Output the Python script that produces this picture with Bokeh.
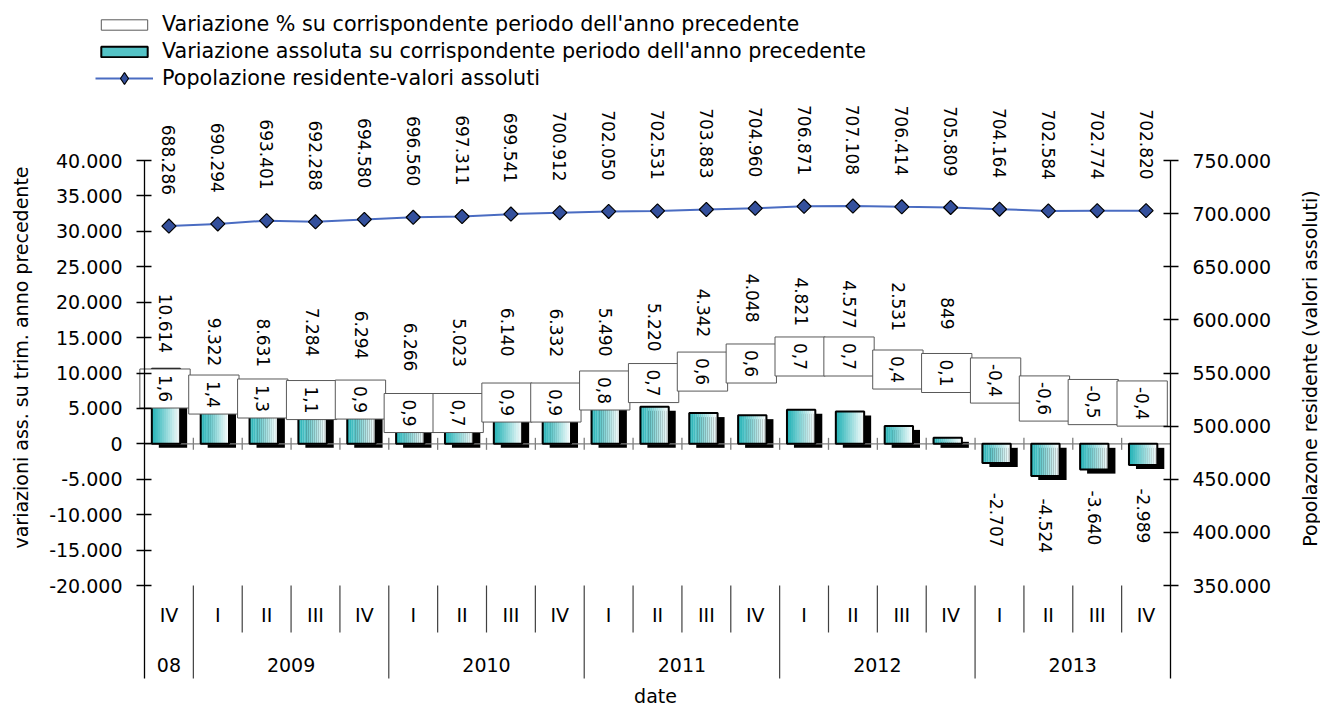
import math
from bokeh.plotting import figure
from bokeh.models import (Range1d, LinearAxis, FixedTicker, CustomJSTickFormatter,
                          Legend, LegendItem, Label)
from bokeh.core.properties import value
from bokeh.embed import file_html
from bokeh.resources import INLINE

# ---------------- data ----------------
quarters = ["IV", "I", "II", "III", "IV", "I", "II", "III", "IV", "I", "II",
            "III", "IV", "I", "II", "III", "IV", "I", "II", "III", "IV"]
years = ["08", "2009", "2009", "2009", "2009", "2010", "2010", "2010", "2010",
         "2011", "2011", "2011", "2011", "2012", "2012", "2012", "2012",
         "2013", "2013", "2013", "2013"]
abs_change = [10614, 9322, 8631, 7284, 6294, 6266, 5023, 6140, 6332, 5490, 5220,
              4342, 4048, 4821, 4577, 2531, 849, -2707, -4524, -3640, -2989]
pct_change = [1.6, 1.4, 1.3, 1.1, 0.9, 0.9, 0.7, 0.9, 0.9, 0.8, 0.7,
              0.6, 0.6, 0.7, 0.7, 0.4, 0.1, -0.4, -0.6, -0.5, -0.4]
population = [688286, 690294, 693401, 692288, 694580, 696560, 697311, 699541,
              700912, 702050, 702531, 703883, 704960, 706871, 707108, 706414,
              705809, 704164, 702584, 702774, 702820]

# label placement (left-axis units) as arranged in the original chart
pct_box_pos = [7810, 6960, 6400, 6180, 6250, 4350, 4350, 5830, 5830, 7530, 8580,
               10200, 11340, 12330, 12330, 10490, 10000, 8940, 6400, 5900, 5690]
abs_label_pos = [21200, 17800, 17700, 19200, 18800, 17100, 17700, 19200, 19100,
                 19200, 19900, 21900, 24000, 23500, 23100, 22800, 20700,
                 -6900, -7700, -6600, -6300]

FONT_NAME = "DejaVu Sans"
FONT = value(FONT_NAME)
N = len(quarters)


def it_num(v):
    s = f"{abs(int(v)):,}".replace(",", ".")
    return ("-" if v < 0 else "") + s


pct_labels = [f"{v:.1f}".replace(".", ",") for v in pct_change]
abs_labels = [it_num(v) for v in abs_change]
pop_labels = [it_num(v) for v in population]

# ---------------- layout (canvas pixels; the frame fills the canvas) ----------------
W, H = 1320, 708
X0_PX, X1_PX = 144, 1170            # left / right axis positions
Y_HI_PX, Y_LO_PX = 160, 585         # y of the top / bottom ticks
AX_BOTTOM_PX = 678                  # bottom of the axis lines
L_HI, L_LO = 40000, -20000
R_HI, R_LO = 750000, 350000
cat_px = (X1_PX - X0_PX) / N
l_per_px = (L_HI - L_LO) / (Y_LO_PX - Y_HI_PX)
r_per_px = (R_HI - R_LO) / (Y_LO_PX - Y_HI_PX)


def ly(py):
    return L_HI - (py - Y_HI_PX) * l_per_px


def ry(py):
    return R_HI - (py - Y_HI_PX) * r_per_px


p = figure(width=W, height=H,
           x_range=Range1d(-X0_PX / cat_px, N + (W - X1_PX) / cat_px),
           y_range=Range1d(ly(H), ly(0)),
           output_backend="svg", toolbar_location=None, min_border=0,
           outline_line_color=None, background_fill_color="white",
           border_fill_color="white")
p.extra_y_ranges = {"right": Range1d(ry(H), ry(0))}
p.grid.visible = False
p.xaxis.visible = False

fmt = CustomJSTickFormatter(code="""
const n = Math.round(tick);
const s = Math.abs(n).toString().replace(/\\B(?=(\\d{3})+(?!\\d))/g, ".");
return (n < 0 ? "-" : "") + s;
""")


def style_axis(ax, ticks, bounds, loc):
    ax.fixed_location = loc
    ax.ticker = FixedTicker(ticks=ticks)
    ax.formatter = fmt
    ax.bounds = bounds
    ax.axis_line_color = "black"
    ax.axis_line_width = 1.3
    ax.major_tick_line_color = "black"
    ax.major_tick_line_width = 1.3
    ax.major_tick_in = 7
    ax.major_tick_out = 8
    ax.minor_tick_line_color = None
    ax.major_label_text_font = FONT_NAME
    ax.major_label_text_font_size = "19px"
    ax.major_label_text_color = "black"
    ax.major_label_standoff = 14


style_axis(p.yaxis[0], list(range(L_LO, L_HI + 1, 5000)), (ly(AX_BOTTOM_PX), L_HI), 0)
raxis = LinearAxis(y_range_name="right")
style_axis(raxis, list(range(R_LO, R_HI + 1, 50000)), (ry(AX_BOTTOM_PX), R_HI), N)
p.add_layout(raxis, "right")

# ---------------- bars ----------------
cx = [i + 0.5 for i in range(N)]
bar_x = [c - 0.06 for c in cx]
BW = 0.58
dy_sh = 4 * l_per_px

p.vbar(x=[b + 0.143 for b in bar_x], width=BW,
       top=[v - dy_sh for v in abs_change], bottom=[-dy_sh] * N,
       fill_color="black", line_color=None)

p.segment(x0=[0], x1=[N], y0=[0], y1=[0], line_color="#7f7f7f", line_width=1.3)
bnd = list(range(1, N))
p.segment(x0=bnd, x1=bnd, y0=[-6 * l_per_px] * len(bnd), y1=[6 * l_per_px] * len(bnd),
          line_color="#7f7f7f", line_width=1.3)

c0 = (36, 178, 182)
c1 = (246, 252, 252)
NS = 14
slice_rs = []
for k in range(NS):
    t = k / (NS - 1)
    col = "#%02x%02x%02x" % tuple(int(round(a + (b - a) * t)) for a, b in zip(c0, c1))
    xs = [b - BW / 2 + (k + 0.5) * BW / NS for b in bar_x]
    r = p.vbar(x=xs, width=BW / NS * 1.08, top=abs_change, bottom=0,
               fill_color=col, line_color=None)
    slice_rs.append(r)
outline_r = p.vbar(x=bar_x, width=BW, top=abs_change, bottom=0,
                   fill_color=None, line_color="black", line_width=2)

# ---------------- % boxes ----------------
CW = {"0": .636, "1": .636, "2": .636, "3": .636, "4": .636, "5": .636, "6": .636,
      "7": .636, "8": .636, "9": .636, ",": .318, ".": .318, "-": .361}
box_h = [17 * sum(CW[ch] for ch in s) + 12 for s in pct_labels]
box_x = [c - 0.08 for c in cx]
box_r = p.rect(x=box_x, y=pct_box_pos, width=1.03, height=box_h, height_units="screen",
               fill_color="white", line_color="#595959", line_width=1)
p.text(x=box_x, y=pct_box_pos, text=pct_labels, angle=-math.pi / 2,
       text_align="center", text_baseline="middle", text_font=FONT,
       text_font_size="17px", text_color="black")

# absolute change labels
p.text(x=bar_x, y=abs_label_pos, text=abs_labels, angle=-math.pi / 2,
       text_align="left", text_baseline="middle", text_font=FONT,
       text_font_size="17px", text_color="black")

# ---------------- population line ----------------
LINE_C, MK_C = "#4a6cc2", "#34509c"
line_r = p.line(x=cx, y=population, y_range_name="right", line_color=LINE_C,
                line_width=2)
p.scatter(x=cx, y=population, y_range_name="right", marker="square",
          angle=math.pi / 4, size=10, fill_color=MK_C,
          line_color="black", line_width=1.2)
# legend-only marker (placed outside the visible range)
leg_mk = p.scatter(x=[-100.0], y=[population[0]], y_range_name="right",
                   marker="diamond", size=14, fill_color=MK_C,
                   line_color="black", line_width=1.2)
p.text(x=cx, y=[v + 31 * r_per_px for v in population], y_range_name="right",
       text=pop_labels, angle=-math.pi / 2, text_align="right",
       text_baseline="middle", text_font=FONT, text_font_size="17px",
       text_color="black")

# ---------------- category axis (two levels) ----------------
p.text(x=cx, y=[ly(614)] * N, text=quarters, text_align="center",
       text_baseline="middle", text_font=FONT, text_font_size="19px",
       text_color="black")
year_names = []
for y in years:
    if y not in year_names:
        year_names.append(y)
year_x = [sum(c for c, y in zip(cx, years) if y == yn) /
          sum(1 for y in years if y == yn) for yn in year_names]
p.text(x=year_x, y=[ly(664)] * len(year_names), text=year_names, text_align="center",
       text_baseline="middle", text_font=FONT, text_font_size="19px",
       text_color="black")
q_sep = [b for b in bnd if years[b - 1] == years[b]]
y_sep = [b for b in bnd if years[b - 1] != years[b]]
p.segment(x0=q_sep, x1=q_sep, y0=[ly(Y_LO_PX)] * len(q_sep), y1=[ly(632)] * len(q_sep),
          line_color="#404040", line_width=1.2)
p.segment(x0=y_sep, x1=y_sep, y0=[ly(Y_LO_PX)] * len(y_sep),
          y1=[ly(AX_BOTTOM_PX)] * len(y_sep), line_color="#404040", line_width=1.2)


# ---------------- axis titles ----------------
def title(text, x, y, angle):
    p.add_layout(Label(x=x, y=H - y, x_units="screen", y_units="screen", text=text,
                       angle=angle, text_align="center", text_baseline="middle",
                       text_font=FONT_NAME, text_font_size="19px", text_color="black"))


title("variazioni ass. su trim. anno precedente", 20, 357, math.pi / 2)
title("Popolazone residente (valori assoluti)", 1309, 368, math.pi / 2)
title("date", 655, 695, 0)

# ---------------- legend ----------------
leg_style = dict(glyph_width=58, label_standoff=9, spacing=3, padding=0, margin=0,
                 border_line_color=None, background_fill_alpha=0,
                 label_text_font=FONT_NAME, label_text_font_size="20.7px",
                 label_text_color="black")
legend1 = Legend(items=[
    LegendItem(label="Variazione % su corrispondente periodo dell'anno precedente",
               renderers=[box_r]),
    LegendItem(label="Variazione assoluta su corrispondente periodo dell'anno precedente",
               renderers=[slice_rs[3], outline_r]),
], location=(95, H - 63), glyph_height=13, **leg_style)
legend2 = Legend(items=[
    LegendItem(label="Popolazione residente-valori assoluti", renderers=[line_r, leg_mk]),
], location=(95, H - 93), glyph_height=30, **leg_style)
p.add_layout(legend1)
p.add_layout(legend2)

open("out.html", "w").write(file_html(p, INLINE))
